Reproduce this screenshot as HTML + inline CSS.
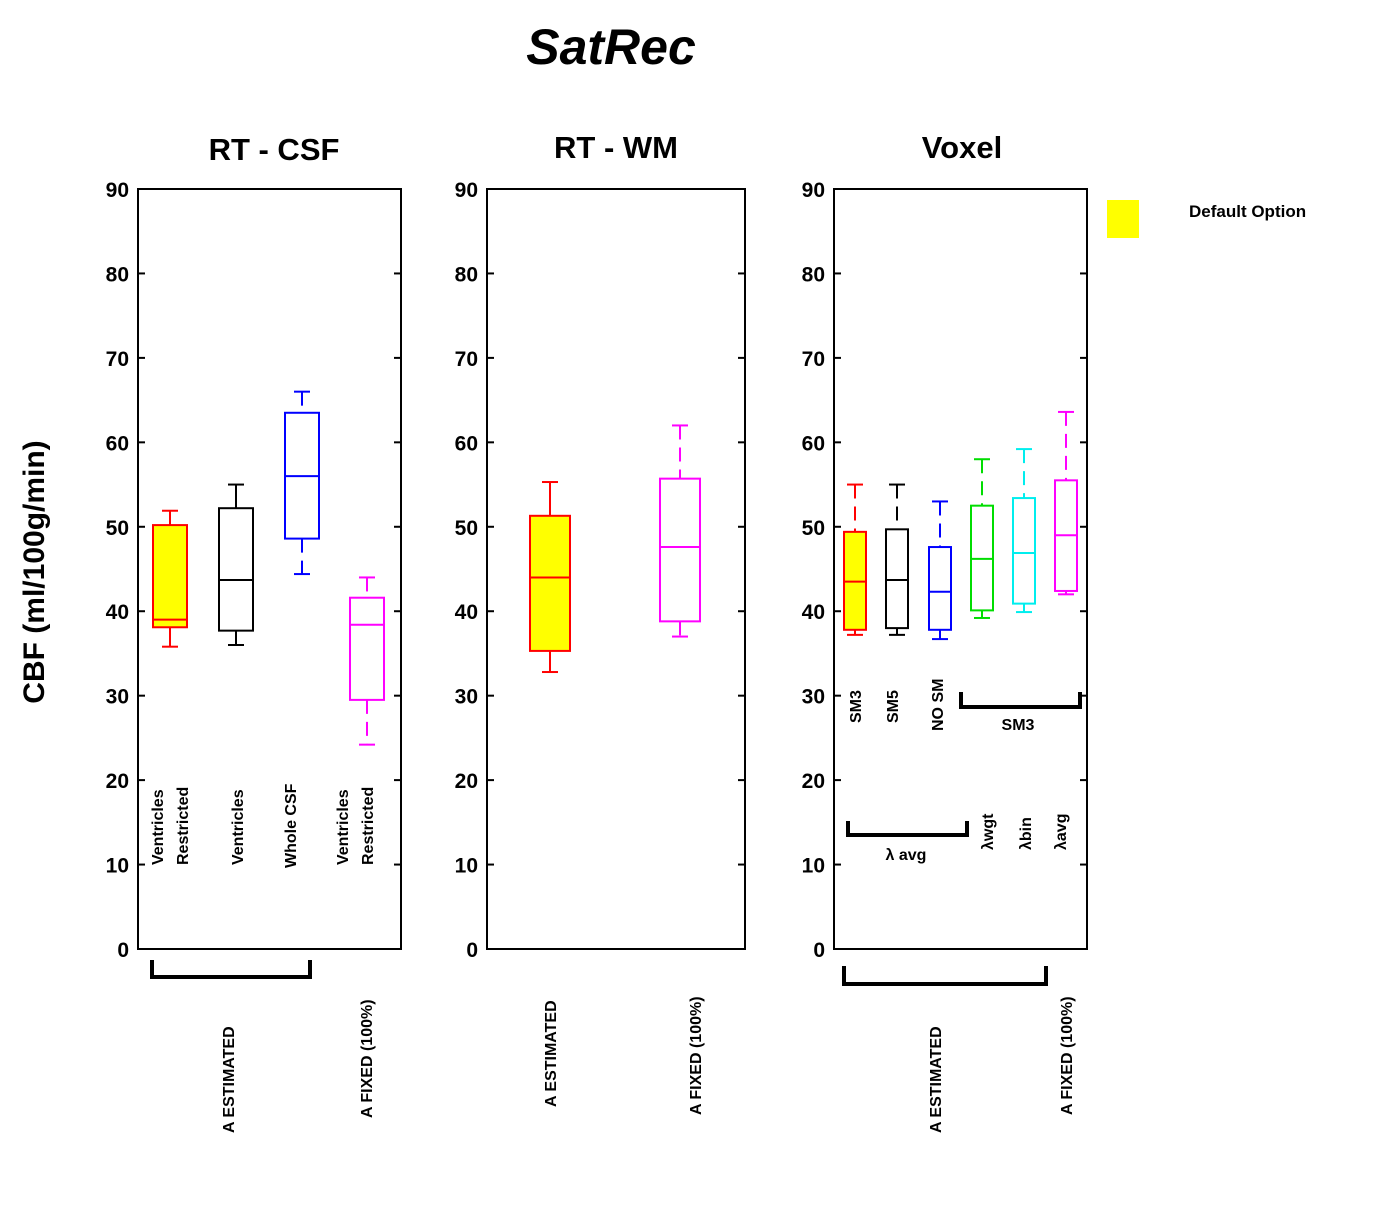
<!DOCTYPE html>
<html><head><meta charset="utf-8"><style>
body{margin:0;background:#fff}
svg{display:block;font-family:"Liberation Sans",sans-serif}
</style></head><body>
<svg id="c" width="1390" height="1207" viewBox="0 0 1390 1207">
<text x="611" y="64" text-anchor="middle" font-size="50" font-weight="bold" font-style="italic">SatRec</text>
<text x="274" y="160" text-anchor="middle" font-size="31" font-weight="bold">RT - CSF</text>
<text x="616" y="158" text-anchor="middle" font-size="31" font-weight="bold">RT - WM</text>
<text x="962" y="158" text-anchor="middle" font-size="31" font-weight="bold">Voxel</text>
<text transform="translate(44,572) rotate(-90)" text-anchor="middle" font-size="30" font-weight="bold">CBF (ml/100g/min)</text>
<rect x="1107" y="200" width="32" height="38" fill="#ffff00"/>
<text x="1189" y="217" font-size="17" font-weight="bold">Default Option</text>
<g id="ann" font-size="16" font-weight="bold"></g>
</svg>
<script>
const ticks=[0,10,20,30,40,50,60,70,80,90];
const p1Cats=["Ventricles Restricted","Ventricles","Whole CSF","Ventricles Restricted fixed"];
const p1Max=[51.9,55,66,44];
const p1Q3=[50.2,52.2,63.5,41.6];
const p1Med=[39,43.7,56,38.4];
const p1Q1=[38.1,37.7,48.6,29.5];
const p1Min=[35.8,36,44.4,24.2];
const p2Cats=["A estimated","A fixed"];
const p2Max=[55.3,62];
const p2Q3=[51.3,55.7];
const p2Med=[44,47.6];
const p2Q1=[35.3,38.8];
const p2Min=[32.8,37];
const p3Cats=["SM3","SM5","NO SM","lwgt","lbin","lavg"];
const p3Max=[55,55,53,58,59.2,63.6];
const p3Q3=[49.4,49.7,47.6,52.5,53.4,55.5];
const p3Med=[43.5,43.7,42.3,46.2,46.9,49];
const p3Q1=[37.8,38,37.8,40.1,40.9,42.4];
const p3Min=[37.2,37.2,36.7,39.2,39.9,42];

const NS="http://www.w3.org/2000/svg";
const svg=document.getElementById('c');
function mk(tag,attrs,parent){const e=document.createElementNS(NS,tag);for(const k in attrs)e.setAttribute(k,attrs[k]);(parent||svg).appendChild(e);return e;}
const Y0=949,Y1=189;
function y(v){return Y0-(v/90)*(Y0-Y1);}
const panels=[
 {x0:138,x1:401,centers:[170,236,302,367],bw:34,cols:["#ff0000","#000000","#0000ff","#ff00ff"],fill:[1,0,0,0],d:[p1Max,p1Q3,p1Med,p1Q1,p1Min],dash:[0,0,1,1],cats:p1Cats,name:"rt-csf"},
 {x0:487,x1:745,centers:[550,680],bw:40,cols:["#ff0000","#ff00ff"],fill:[1,0],d:[p2Max,p2Q3,p2Med,p2Q1,p2Min],dash:[0,1],cats:p2Cats,name:"rt-wm"},
 {x0:834,x1:1087,centers:[855,897,940,982,1024,1066],bw:22,cols:["#ff0000","#000000","#0000ff","#00dd00","#00eeee","#ff00ff"],fill:[1,0,0,0,0,0],d:[p3Max,p3Q3,p3Med,p3Q1,p3Min],dash:[1,1,1,1,1,1],cats:p3Cats,name:"voxel"}
];
panels.forEach(p=>{
 const g=mk('g',{});
 
 
 const fr=mk('rect',{x:p.x0,y:Y1,width:p.x1-p.x0,height:Y0-Y1,fill:'none',stroke:'#000','stroke-width':2},g);
 
 
 ticks.forEach(t=>{
  const yy=y(t);
  mk('line',{x1:p.x0,x2:p.x0+7,y1:yy,y2:yy,stroke:'#000','stroke-width':2},g);
  mk('line',{x1:p.x1,x2:p.x1-7,y1:yy,y2:yy,stroke:'#000','stroke-width':2},g);
  const tl=mk('text',{x:p.x0-9,y:yy+8,'text-anchor':'end','font-size':21,'font-weight':'bold'},g);
  tl.textContent=t;
  
  
 });
 p.centers.forEach((cx,i)=>{
  const [mx,q3,md,q1,mn]=p.d.map(a=>a[i]);
  const c=p.cols[i],hw=p.bw/2;
  const bg=mk('g',{stroke:c,'stroke-width':2,fill:'none'},g);
  
  
  const da=p.dash[i]?'14,8':'none';
  mk('line',{x1:cx,x2:cx,y1:y(mx),y2:y(q3),'stroke-dasharray':da},bg);
  mk('line',{x1:cx,x2:cx,y1:y(q1),y2:y(mn),'stroke-dasharray':da},bg);
  mk('line',{x1:cx-8,x2:cx+8,y1:y(mx),y2:y(mx)},bg);
  mk('line',{x1:cx-8,x2:cx+8,y1:y(mn),y2:y(mn)},bg);
  mk('rect',{x:cx-hw,y:y(q3),width:p.bw,height:y(q1)-y(q3),fill:p.fill[i]?'#ffff00':'none'},bg);
  mk('line',{x1:cx-hw,x2:cx+hw,y1:y(md),y2:y(md)},bg);
 });
});
const ann=document.getElementById('ann');
function rt(x,yb,s,name){const t=mk('text',{transform:`translate(${x},${yb}) rotate(-90)`},ann);t.textContent=s;}
function ht(x,yb,s,name){const t=mk('text',{x:x,y:yb,'text-anchor':'middle'},ann);t.textContent=s;}
function br(x1,x2,ytop,ybot,name){const b=mk('path',{d:`M${x1},${ytop} V${ybot} H${x2} V${ytop}`,fill:'none',stroke:'#000','stroke-width':4},ann);}
rt(163,865,"Ventricles","label-ventricles-1");
rt(188,865,"Restricted","label-restricted-1");
rt(243,865,"Ventricles","label-ventricles-2");
rt(296,868,"Whole CSF","label-whole-csf");
rt(348,865,"Ventricles","label-ventricles-3");
rt(373,865,"Restricted","label-restricted-2");
br(152,310,960,977,"bracket-csf-estimated");
rt(234,1133,"A ESTIMATED","label-a-estimated-1");
rt(372,1118,"A  FIXED (100%)","label-a-fixed-1");
rt(556,1107,"A ESTIMATED","label-a-estimated-2");
rt(701,1115,"A  FIXED (100%)","label-a-fixed-2");
br(844,1046,966,984,"bracket-voxel-estimated");
rt(941,1133,"A ESTIMATED","label-a-estimated-3");
rt(1072,1115,"A  FIXED (100%)","label-a-fixed-3");
rt(861,723,"SM3","label-sm3");
rt(898,723,"SM5","label-sm5");
rt(943,731,"NO SM","label-no-sm");
br(961,1080,692,707,"bracket-sm3");
ht(1018,730,"SM3","label-sm3-group");
br(848,967,821,835,"bracket-lambda-avg");
ht(906,860,"λ avg","label-lambda-avg");
rt(993,850,"λwgt","label-lambda-wgt");
rt(1031,850,"λbin","label-lambda-bin");
rt(1066,850,"λavg","label-lambda-avg-2");
</script>
</body></html>
